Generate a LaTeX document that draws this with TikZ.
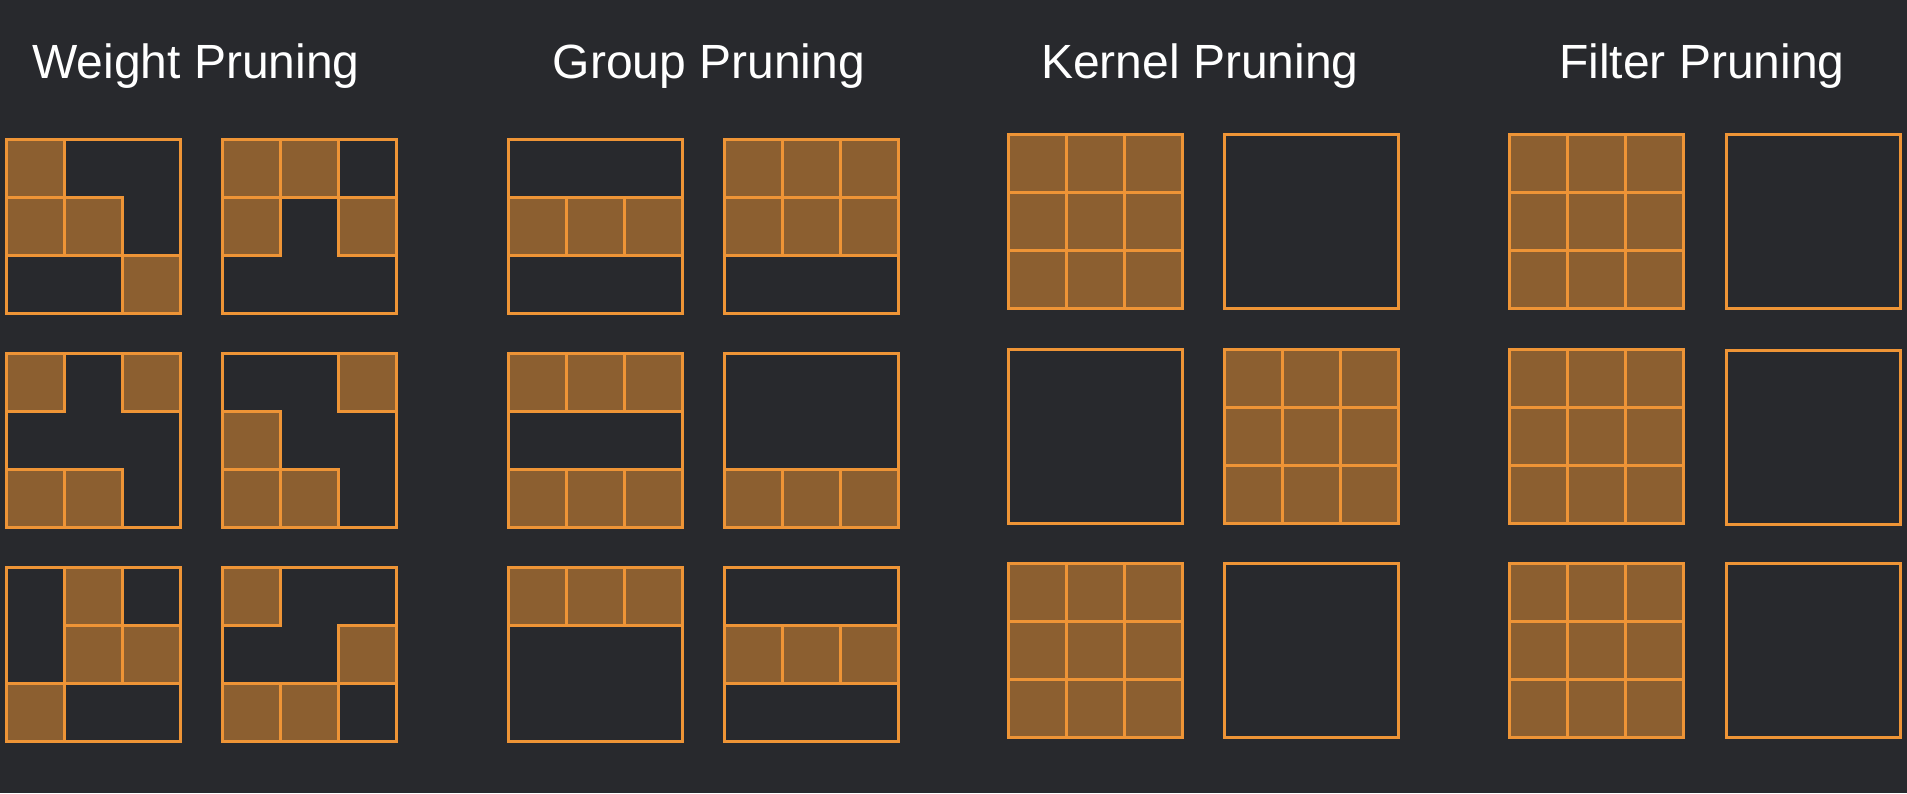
\documentclass[tikz,border=0pt]{standalone}
\usepackage{fontspec}
\setmainfont{Liberation Sans}
\definecolor{bg}{HTML}{28292D}
\definecolor{org}{HTML}{EE9436}
\definecolor{brn}{HTML}{8C5F30}
\tikzset{
  frame/.style={draw=org,line width=1.7pt},
  cell/.style={draw=org,fill=brn,line width=1.7pt},
  title/.style={text=white,font=\fontsize{24}{28}\selectfont,anchor=base,inner sep=0pt}
}
\newcommand{\prbox}[3]{%
  \foreach \rr/\cc in {#3}{\draw[cell] ({#1+1.7+\cc*57.87},{#2+1.7+\rr*57.87}) rectangle ++(57.87,57.87);}
  \draw[frame] ({#1+1.7},{#2+1.7}) rectangle ++(173.6,173.6);}
\newcommand{\emptybox}[2]{\draw[frame] ({#1+1.7},{#2+1.7}) rectangle ++(173.6,173.6);}
\begin{document}
\begin{tikzpicture}[x=0.5pt,y=-0.5pt]
\fill[bg] (0,0) rectangle (1907,793);
\useasboundingbox (0,0) rectangle (1907,793);
% titles
\node[title] (t1) at (196,78) {Weight Pruning};
\node[title] (t2) at (709,78) {Group Pruning};
\node[title] (t3) at (1200,78) {Kernel Pruning};
\node[title] (t4) at (1702,78) {Filter Pruning};
% Weight pruning
\prbox{5}{138}{0/0,1/0,1/1,2/2}
\prbox{221}{138}{0/0,0/1,1/0,1/2}
\prbox{5}{352}{0/0,0/2,2/0,2/1}
\prbox{221}{352}{0/2,1/0,2/0,2/1}
\prbox{5}{566}{0/1,1/1,1/2,2/0}
\prbox{221}{566}{0/0,1/2,2/0,2/1}
% Group pruning
\prbox{507}{138}{1/0,1/1,1/2}
\prbox{723}{138}{0/0,0/1,0/2,1/0,1/1,1/2}
\prbox{507}{352}{0/0,0/1,0/2,2/0,2/1,2/2}
\prbox{723}{352}{2/0,2/1,2/2}
\prbox{507}{566}{0/0,0/1,0/2}
\prbox{723}{566}{1/0,1/1,1/2}
% Kernel pruning
\prbox{1007}{133}{0/0,0/1,0/2,1/0,1/1,1/2,2/0,2/1,2/2}
\emptybox{1223}{133}
\emptybox{1007}{348}
\prbox{1223}{348}{0/0,0/1,0/2,1/0,1/1,1/2,2/0,2/1,2/2}
\prbox{1007}{562}{0/0,0/1,0/2,1/0,1/1,1/2,2/0,2/1,2/2}
\emptybox{1223}{562}
% Filter pruning
\prbox{1508}{133}{0/0,0/1,0/2,1/0,1/1,1/2,2/0,2/1,2/2}
\emptybox{1725}{133}
\prbox{1508}{348}{0/0,0/1,0/2,1/0,1/1,1/2,2/0,2/1,2/2}
\emptybox{1725}{349}
\prbox{1508}{562}{0/0,0/1,0/2,1/0,1/1,1/2,2/0,2/1,2/2}
\emptybox{1725}{562}
\end{tikzpicture}
\end{document}
